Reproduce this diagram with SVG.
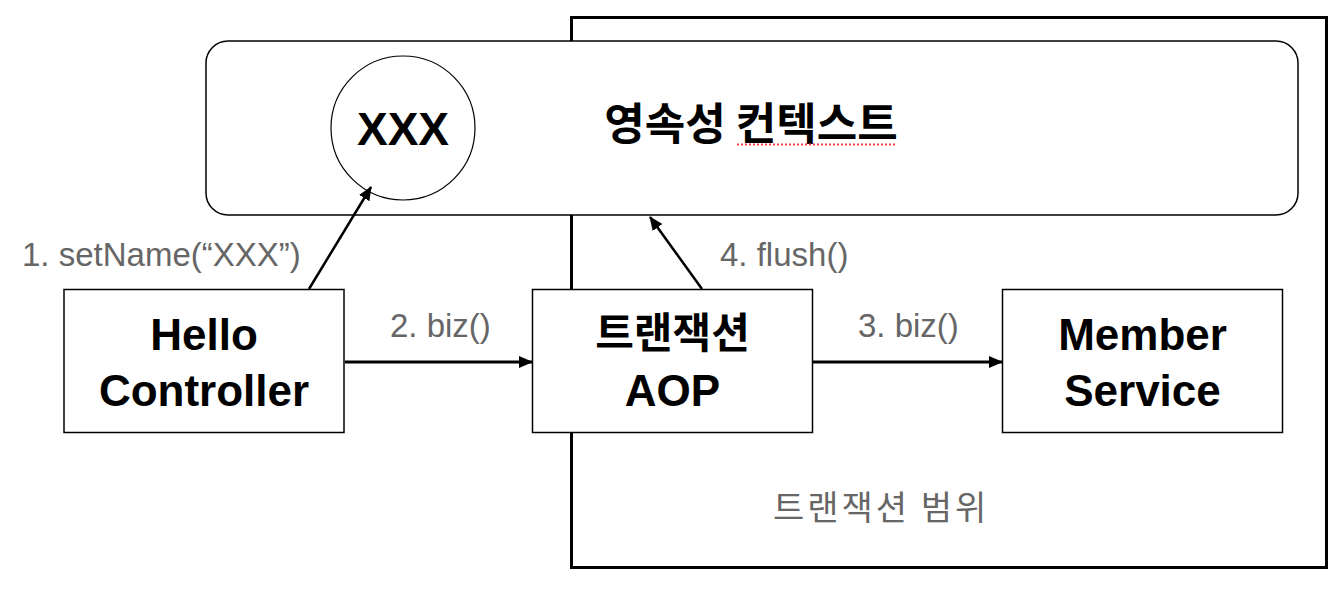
<svg xmlns="http://www.w3.org/2000/svg" width="1336" height="590" viewBox="0 0 1336 590">
<style>
.box{fill:#fff;stroke:#000;stroke-width:1.5}
.nt{font-family:"Liberation Sans","Noto Sans CJK KR",sans-serif;font-weight:bold;font-size:44px;fill:#000;text-anchor:middle}
.kt{font-family:"Noto Sans CJK KR","Liberation Sans",sans-serif;font-weight:bold;font-size:42px;fill:#000;text-anchor:middle}
.lb{font-family:"Liberation Sans","Noto Sans CJK KR",sans-serif;font-size:33px;fill:#666}
.conn{stroke:#000;fill:none}
</style>
<defs>
<marker id="ah" markerUnits="userSpaceOnUse" markerWidth="14" markerHeight="12" refX="13" refY="6" orient="auto">
<path d="M0,0 L14,6 L0,12 Z" fill="#000"/>
</marker>
</defs>
<rect id="scope" x="571.5" y="17.5" width="755" height="550" fill="none" stroke="#000" stroke-width="3"/>
<g id="persistence-context">
<rect x="206" y="41" width="1092" height="174" rx="22" ry="22" fill="#fff" stroke="#000" stroke-width="1.5"/>
<text class="kt" x="751" y="140" style="font-size:44px">영속성 컨텍스트</text>
<line x1="737" y1="144.5" x2="897" y2="144.5" stroke="#f03c3c" stroke-width="2" stroke-dasharray="2,2"/>
</g>
<g id="entity-xxx">
<circle cx="403" cy="128" r="72" fill="#fff" stroke="#000" stroke-width="1.2"/>
<text class="nt" x="403" y="145" style="font-size:46px">XXX</text>
</g>
<g id="scope-edges">
<line x1="571.5" y1="215" x2="571.5" y2="289" stroke="#000" stroke-width="3"/>
<line x1="571.5" y1="433" x2="571.5" y2="566" stroke="#000" stroke-width="3"/>
</g>
<g id="hello-controller">
<rect class="box" x="64" y="289.5" width="280" height="143"/>
<text class="nt" x="204" y="350">Hello</text>
<text class="nt" x="204" y="406">Controller</text>
</g>
<g id="transaction-aop">
<rect class="box" x="532.5" y="289.5" width="280" height="143"/>
<text class="kt" x="672.5" y="348">트랜잭션</text>
<text class="nt" x="672.5" y="406">AOP</text>
</g>
<g id="member-service">
<rect class="box" x="1002.5" y="289.5" width="280" height="143"/>
<text class="nt" x="1142.5" y="350">Member</text>
<text class="nt" x="1142.5" y="406">Service</text>
</g>
<g id="connectors">
<line class="conn" x1="309" y1="289" x2="371" y2="187" stroke-width="2.5" marker-end="url(#ah)"/>
<line class="conn" x1="345" y1="362" x2="532" y2="362" stroke-width="3" marker-end="url(#ah)"/>
<line class="conn" x1="813" y1="362" x2="1002" y2="362" stroke-width="3" marker-end="url(#ah)"/>
<line class="conn" x1="702" y1="289" x2="650" y2="217" stroke-width="2.5" marker-end="url(#ah)"/>
</g>
<g id="labels">
<text class="lb" x="22" y="266">1. setName(“XXX”)</text>
<text class="lb" x="390" y="337">2. biz()</text>
<text class="lb" x="858" y="337">3. biz()</text>
<text class="lb" x="720" y="266">4. flush()</text>
<text class="lb" x="773" y="520" style="font-family:'Noto Sans CJK KR','Liberation Sans',sans-serif;font-size:34px;letter-spacing:3px">트랜잭션 범위</text>
</g>
</svg>
